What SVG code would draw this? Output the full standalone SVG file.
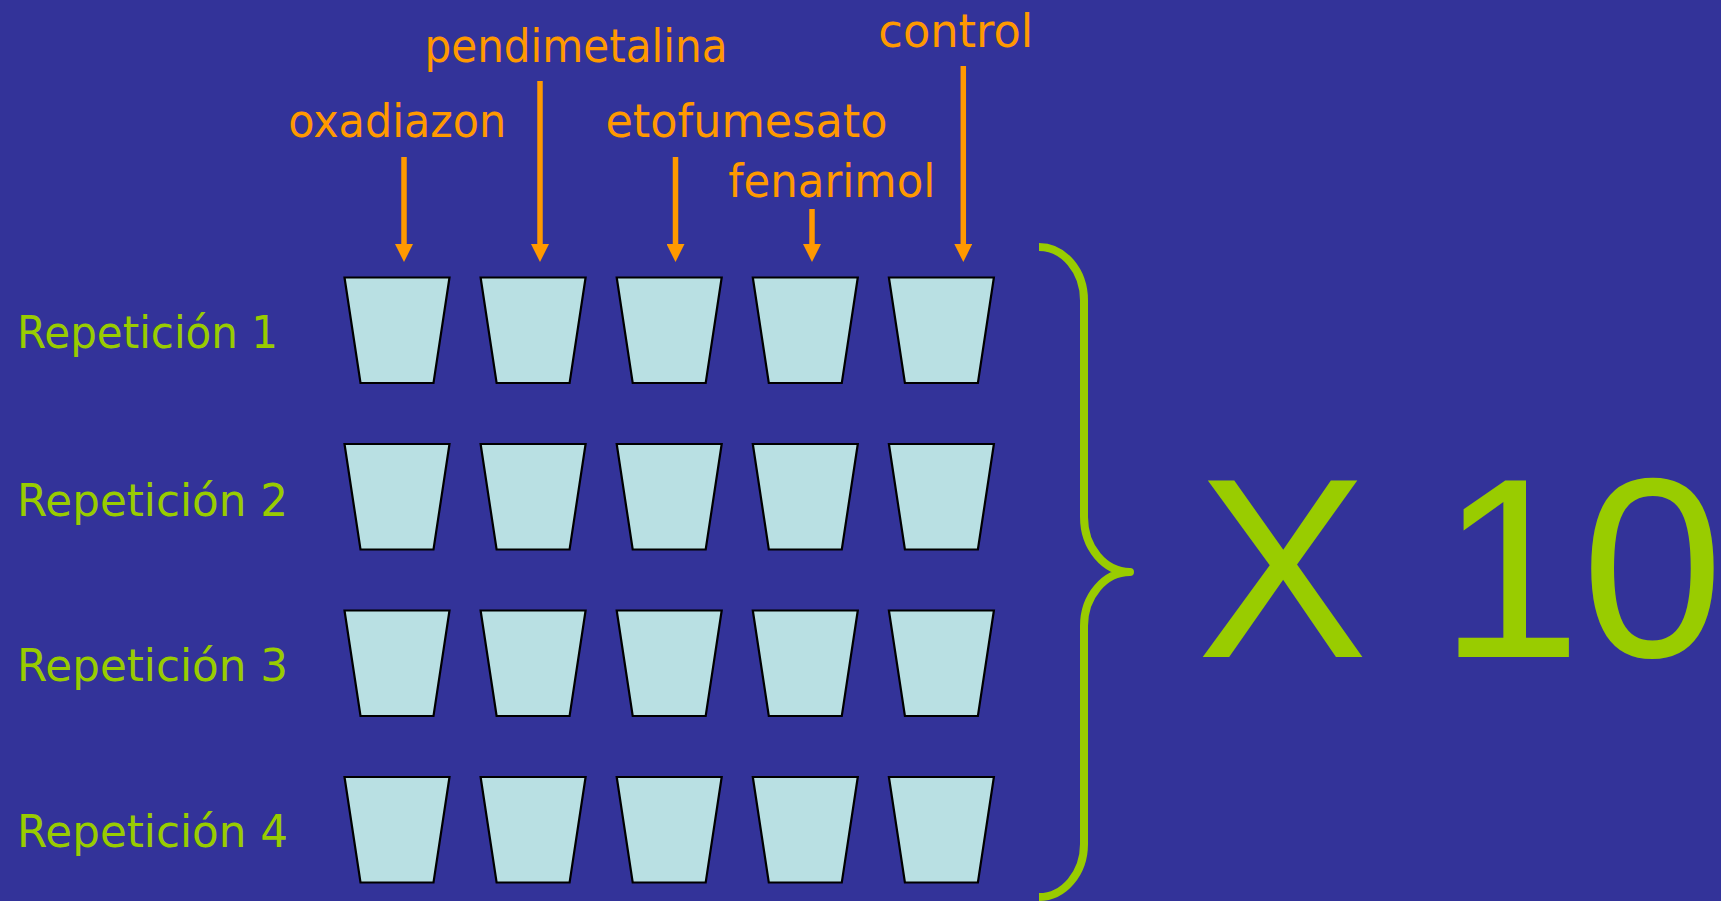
<svg xmlns="http://www.w3.org/2000/svg" width="1721" height="901" viewBox="0 0 1721 901">
<style>
.pot{fill:#B9E0E3;stroke:#000;stroke-width:2.2;stroke-linejoin:miter}
.lbl{font-family:"DejaVu Sans","Liberation Sans",sans-serif;font-size:47px;fill:#FF9900}
.rep{font-family:"DejaVu Sans","Liberation Sans",sans-serif;font-size:45px;fill:#99CC00}
.big{font-family:"Liberation Sans",Arial,sans-serif;font-size:256px;fill:#99CC00}
.arr{stroke:#FF9900;stroke-width:5.5;fill:none}
</style>
<defs>
<marker id="ah" viewBox="0 0 18 18" refX="11" refY="9" markerWidth="18" markerHeight="18" markerUnits="userSpaceOnUse" orient="auto">
<path d="M0,0 L18,9 L0,18 z" fill="#FF9900"/>
</marker>
<path id="potshape" d="M0,0 L105,0 L89,105.5 L16,105.5 Z"/>
</defs>
<rect x="0" y="0" width="1721" height="901" fill="#333399"/>

<g id="labels">
<text class="lbl" x="424.5" y="61.5" textLength="303" lengthAdjust="spacingAndGlyphs">pendimetalina</text>
<text class="lbl" x="288.3" y="137.3" textLength="218" lengthAdjust="spacingAndGlyphs">oxadiazon</text>
<text class="lbl" x="605.4" y="137.3" textLength="282" lengthAdjust="spacingAndGlyphs">etofumesato</text>
<text class="lbl" x="728.3" y="197.3" textLength="207" lengthAdjust="spacingAndGlyphs">fenarimol</text>
<text class="lbl" x="878.3" y="46.7" textLength="155" lengthAdjust="spacingAndGlyphs">control</text>
</g>

<g id="connectors">
<line class="arr" x1="404" y1="157" x2="404" y2="255" marker-end="url(#ah)"/>
<line class="arr" x1="540" y1="81" x2="540" y2="255" marker-end="url(#ah)"/>
<line class="arr" x1="675.5" y1="157" x2="675.5" y2="255" marker-end="url(#ah)"/>
<line class="arr" x1="812" y1="209" x2="812" y2="255" marker-end="url(#ah)"/>
<line class="arr" x1="963.3" y1="66" x2="963.3" y2="255" marker-end="url(#ah)"/>
</g>

<g id="rep-labels">
<text class="rep" x="17" y="347.7" textLength="261" lengthAdjust="spacingAndGlyphs">Repetición 1</text>
<text class="rep" x="17" y="515.5" textLength="271" lengthAdjust="spacingAndGlyphs">Repetición 2</text>
<text class="rep" x="17" y="681" textLength="271" lengthAdjust="spacingAndGlyphs">Repetición 3</text>
<text class="rep" x="17" y="846.8" textLength="271" lengthAdjust="spacingAndGlyphs">Repetición 4</text>
</g>

<g id="row1">
<use href="#potshape" class="pot" x="344.5" y="277.5"/>
<use href="#potshape" class="pot" x="480.6" y="277.5"/>
<use href="#potshape" class="pot" x="616.7" y="277.5"/>
<use href="#potshape" class="pot" x="752.8" y="277.5"/>
<use href="#potshape" class="pot" x="888.9" y="277.5"/>
</g>
<g id="row2">
<use href="#potshape" class="pot" x="344.5" y="444"/>
<use href="#potshape" class="pot" x="480.6" y="444"/>
<use href="#potshape" class="pot" x="616.7" y="444"/>
<use href="#potshape" class="pot" x="752.8" y="444"/>
<use href="#potshape" class="pot" x="888.9" y="444"/>
</g>
<g id="row3">
<use href="#potshape" class="pot" x="344.5" y="610.5"/>
<use href="#potshape" class="pot" x="480.6" y="610.5"/>
<use href="#potshape" class="pot" x="616.7" y="610.5"/>
<use href="#potshape" class="pot" x="752.8" y="610.5"/>
<use href="#potshape" class="pot" x="888.9" y="610.5"/>
</g>
<g id="row4">
<use href="#potshape" class="pot" x="344.5" y="777"/>
<use href="#potshape" class="pot" x="480.6" y="777"/>
<use href="#potshape" class="pot" x="616.7" y="777"/>
<use href="#potshape" class="pot" x="752.8" y="777"/>
<use href="#potshape" class="pot" x="888.9" y="777"/>
</g>

<g id="brace">
<path d="M1039,247 A45,53.5 0 0 1 1084,300.5 L1084,517 A46,55 0 0 0 1130,572 A46,54 0 0 0 1084,626 L1084,844 A45,53 0 0 1 1039,897" fill="none" stroke="#99CC00" stroke-width="8" stroke-linejoin="round"/>
</g>

<g id="multiplier">
<text class="big" x="1197" y="657">X 10</text>
</g>
</svg>
